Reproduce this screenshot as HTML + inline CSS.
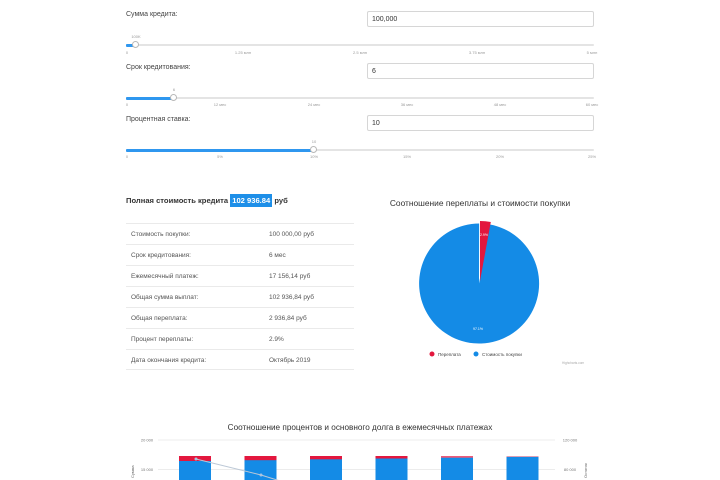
<!DOCTYPE html>
<html><head><meta charset="utf-8">
<style>
*{margin:0;padding:0;box-sizing:border-box}
body{width:720px;height:480px;background:#fff;position:relative;overflow:hidden;font-family:"Liberation Sans","DejaVu Sans",sans-serif;color:#333}
.a{position:absolute;white-space:nowrap}
.lbl{font-size:7px;color:#444}
.inp{position:absolute;left:367px;width:227px;height:16px;border:1px solid #d6d6d6;border-radius:2px;font-size:7px;color:#333;padding:4px 0 0 4px}
.track{position:absolute;left:126px;width:468px;height:2px;background:#e4e4e4;border-radius:1px}
.fill{position:absolute;left:126px;height:3px;background:#2f97ef;border-radius:1px}
.knob{position:absolute;width:7px;height:7px;border-radius:50%;background:#fff;border:1px solid #b8b8b8}
.tk{position:absolute;font-size:4px;color:#999;transform:translateX(-50%)}
.row{position:absolute;left:126px;width:228px;height:21px;border-top:1px solid #eaeaea;font-size:6.5px;color:#555}
.row span{position:absolute;top:7px}
</style></head><body>

<!-- slider 1 -->
<div class="a lbl" style="left:126px;top:11px">Сумма кредита:</div>
<div class="inp" style="top:11px">100,000</div>
<div class="track" style="top:44px"></div>
<div class="fill" style="top:43.5px;width:10px"></div>
<div class="knob" style="left:132px;top:41px"></div>
<div class="tk" style="left:136px;top:34px">100K</div>
<div class="tk" style="left:127px;top:50px">0</div>
<div class="tk" style="left:243px;top:50px">1.25 млн</div>
<div class="tk" style="left:360px;top:50px">2.5 млн</div>
<div class="tk" style="left:477px;top:50px">3.75 млн</div>
<div class="tk" style="left:592px;top:50px">5 млн</div>

<!-- slider 2 -->
<div class="a lbl" style="left:126px;top:64px">Срок кредитования:</div>
<div class="inp" style="top:63px">6</div>
<div class="track" style="top:97px"></div>
<div class="fill" style="top:96.5px;width:47px"></div>
<div class="knob" style="left:170px;top:94px"></div>
<div class="tk" style="left:174px;top:87px">6</div>
<div class="tk" style="left:127px;top:102px">0</div>
<div class="tk" style="left:220px;top:102px">12 мес</div>
<div class="tk" style="left:314px;top:102px">24 мес</div>
<div class="tk" style="left:407px;top:102px">36 мес</div>
<div class="tk" style="left:500px;top:102px">48 мес</div>
<div class="tk" style="left:592px;top:102px">60 мес</div>

<!-- slider 3 -->
<div class="a lbl" style="left:126px;top:116px">Процентная ставка:</div>
<div class="inp" style="top:115px">10</div>
<div class="track" style="top:149px"></div>
<div class="fill" style="top:148.5px;width:187px"></div>
<div class="knob" style="left:310px;top:146px"></div>
<div class="tk" style="left:314px;top:139px">10</div>
<div class="tk" style="left:127px;top:154px">0</div>
<div class="tk" style="left:220px;top:154px">5%</div>
<div class="tk" style="left:314px;top:154px">10%</div>
<div class="tk" style="left:407px;top:154px">15%</div>
<div class="tk" style="left:500px;top:154px">20%</div>
<div class="tk" style="left:592px;top:154px">25%</div>

<!-- total -->
<div class="a" style="left:126px;top:196px;font-size:7.6px;font-weight:bold;color:#333">Полная стоимость кредита <span style="background:#1e8fe8;color:#fff;padding:2px 2px;font-weight:bold">102 936.84</span> руб</div>

<div class="row" style="top:223px"><span style="left:5px">Стоимость покупки:</span><span style="left:143px">100 000,00 руб</span></div>
<div class="row" style="top:244px"><span style="left:5px">Срок кредитования:</span><span style="left:143px">6 мес</span></div>
<div class="row" style="top:265px"><span style="left:5px">Ежемесячный платеж:</span><span style="left:143px">17 156,14 руб</span></div>
<div class="row" style="top:286px"><span style="left:5px">Общая сумма выплат:</span><span style="left:143px">102 936,84 руб</span></div>
<div class="row" style="top:307px"><span style="left:5px">Общая переплата:</span><span style="left:143px">2 936,84 руб</span></div>
<div class="row" style="top:328px"><span style="left:5px">Процент переплаты:</span><span style="left:143px">2.9%</span></div>
<div class="row" style="top:349px;border-bottom:1px solid #eaeaea"><span style="left:5px">Дата окончания кредита:</span><span style="left:143px">Октябрь 2019</span></div>

<!-- pie -->
<svg class="a" style="left:360px;top:185px" width="260" height="190" viewBox="360 185 260 190">
  <text x="480" y="206" text-anchor="middle" font-size="8.4" fill="#333" font-family="Liberation Sans, sans-serif">Соотношение переплаты и стоимости покупки</text>
  <path d="M479,283.5 L479,223.5 A60,60 0 1 1 468.2,224.5 Z" transform="rotate(10.5 479 283.5)" fill="#148be6"/>
  <path d="M480,281 L480,221 A60,60 0 0 1 490.8,222 Z" fill="#e3173e"/>
  <text x="484" y="236" text-anchor="middle" font-size="3.5" fill="#fff">2.9%</text>
  <text x="478" y="330" text-anchor="middle" font-size="3.5" fill="#fff">97.1%</text>
  <circle cx="432" cy="354" r="2.5" fill="#e3173e"/>
  <text x="438" y="356" font-size="4.5" fill="#444">Переплата</text>
  <circle cx="476" cy="354" r="2.5" fill="#148be6"/>
  <text x="482" y="356" font-size="4.5" fill="#444">Стоимость покупки</text>
  <text x="562" y="364" font-size="3.2" fill="#aaa">Highcharts.com</text>
</svg>

<!-- bottom chart -->
<svg class="a" style="left:0;top:410px" width="720" height="70" viewBox="0 410 720 70">
  <text x="360" y="430" text-anchor="middle" font-size="8.2" fill="#333" font-family="Liberation Sans, sans-serif">Соотношение процентов и основного долга в ежемесячных платежах</text>
  <line x1="158" y1="440" x2="555" y2="440" stroke="#e6e6e6" stroke-width="0.8"/>
  <line x1="158" y1="469.5" x2="555" y2="469.5" stroke="#e6e6e6" stroke-width="0.8"/>
  <text x="147" y="441.5" text-anchor="middle" font-size="4" fill="#777">20 000</text>
  <text x="147" y="471" text-anchor="middle" font-size="4" fill="#777">15 000</text>
  <text x="570" y="441.5" text-anchor="middle" font-size="4" fill="#777">120 000</text>
  <text x="570" y="471" text-anchor="middle" font-size="4" fill="#777">80 000</text>
  <text transform="translate(134,478) rotate(-90)" font-size="4" fill="#666">Сумма</text>
  <text transform="translate(587,478) rotate(-90)" font-size="4" fill="#666">Остаток</text>
  <g fill="#148be6">
    <rect x="179" y="456" width="32" height="30"/>
    <rect x="244.5" y="456" width="32" height="30"/>
    <rect x="310" y="456" width="32" height="30"/>
    <rect x="375.5" y="456" width="32" height="30"/>
    <rect x="441" y="456" width="32" height="30"/>
    <rect x="506.5" y="456" width="32" height="30"/>
  </g>
  <g fill="#e3173e">
    <rect x="179" y="456" width="32" height="5"/>
    <rect x="244.5" y="456" width="32" height="4.2"/>
    <rect x="310" y="456" width="32" height="3.3"/>
    <rect x="375.5" y="456" width="32" height="2.5"/>
    <rect x="441" y="456" width="32" height="1.7" fill="#ef5a78"/>
    <rect x="506.5" y="456" width="32" height="0.9" fill="#f2a0b0"/>
  </g>
  <polyline points="196,459 261,475 290,484" fill="none" stroke="#bcc8d6" stroke-width="1"/>
  <circle cx="196" cy="459" r="1.5" fill="#a9c4e0"/>
  <circle cx="261" cy="475" r="1.5" fill="#a9c4e0"/>
</svg>

</body></html>
